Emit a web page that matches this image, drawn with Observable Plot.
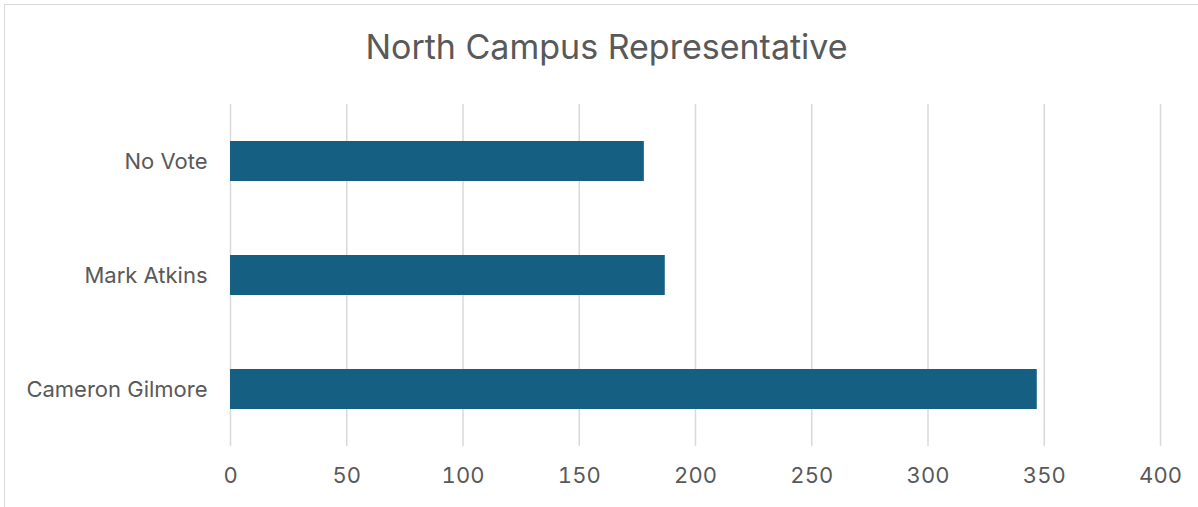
<!DOCTYPE html>
<html>
<head>
<meta charset="utf-8">
<script src="https://cdn.jsdelivr.net/npm/d3@7"></script>
<script src="https://cdn.jsdelivr.net/npm/@observablehq/plot@0.6"></script>
<style>
  html, body { margin: 0; padding: 0; background: #ffffff; }
  #wrap { position: relative; width: 1198px; height: 507px; overflow: hidden; background: #fff; }
  #frame { position: absolute; left: 4px; top: 4px; width: 1300px; height: 600px;
           border-top: 1.5px solid #d9d9d9; border-left: 1.5px solid #d9d9d9; box-sizing: border-box; }
  #title { position: absolute; left: 0; top: 27px; width: 1213px; text-align: center;
           font-family: Inter, "Open Sans", sans-serif; font-size: 34px; color: #595959; line-height: 40px; }
  #chart { position: absolute; left: 0; top: 80px; }
</style>
</head>
<body>
<div id="wrap">
  <div id="frame"></div>
  <div id="title">North Campus Representative</div>
  <div id="chart"></div>
</div>
<script>
const categories = ["No Vote", "Mark Atkins", "Cameron Gilmore"];
const votes = [178, 187, 347];
const xTicks = [0, 50, 100, 150, 200, 250, 300, 350, 400];

const data = categories.map((c, i) => ({name: c, votes: votes[i]}));

const chart = Plot.plot({
  width: 1198,
  height: 427,
  marginLeft: 230,
  marginRight: 38,
  marginTop: 24,
  marginBottom: 61,
  style: {fontFamily: "Inter, 'Open Sans', sans-serif", fontSize: "22px", color: "#595959", background: "transparent", overflow: "visible"},
  x: {domain: [0, 400]},
  y: {domain: categories, paddingInner: 0.65, paddingOuter: 0.325},
  marks: [
    Plot.gridX(xTicks, {stroke: "#d9d9d9", strokeOpacity: 1, strokeWidth: 1.5}),
    Plot.barX(data, {x: "votes", y: "name", fill: "#156082"}),
    Plot.axisX({ticks: xTicks, tickSize: 0, tickPadding: 21, fontSize: 22, label: null, fill: "#595959"}),
    Plot.axisY({tickSize: 0, tickPadding: 23, fontSize: 22, label: null, fill: "#595959"})
  ]
});
document.getElementById("chart").appendChild(chart);
</script>
</body>
</html>
